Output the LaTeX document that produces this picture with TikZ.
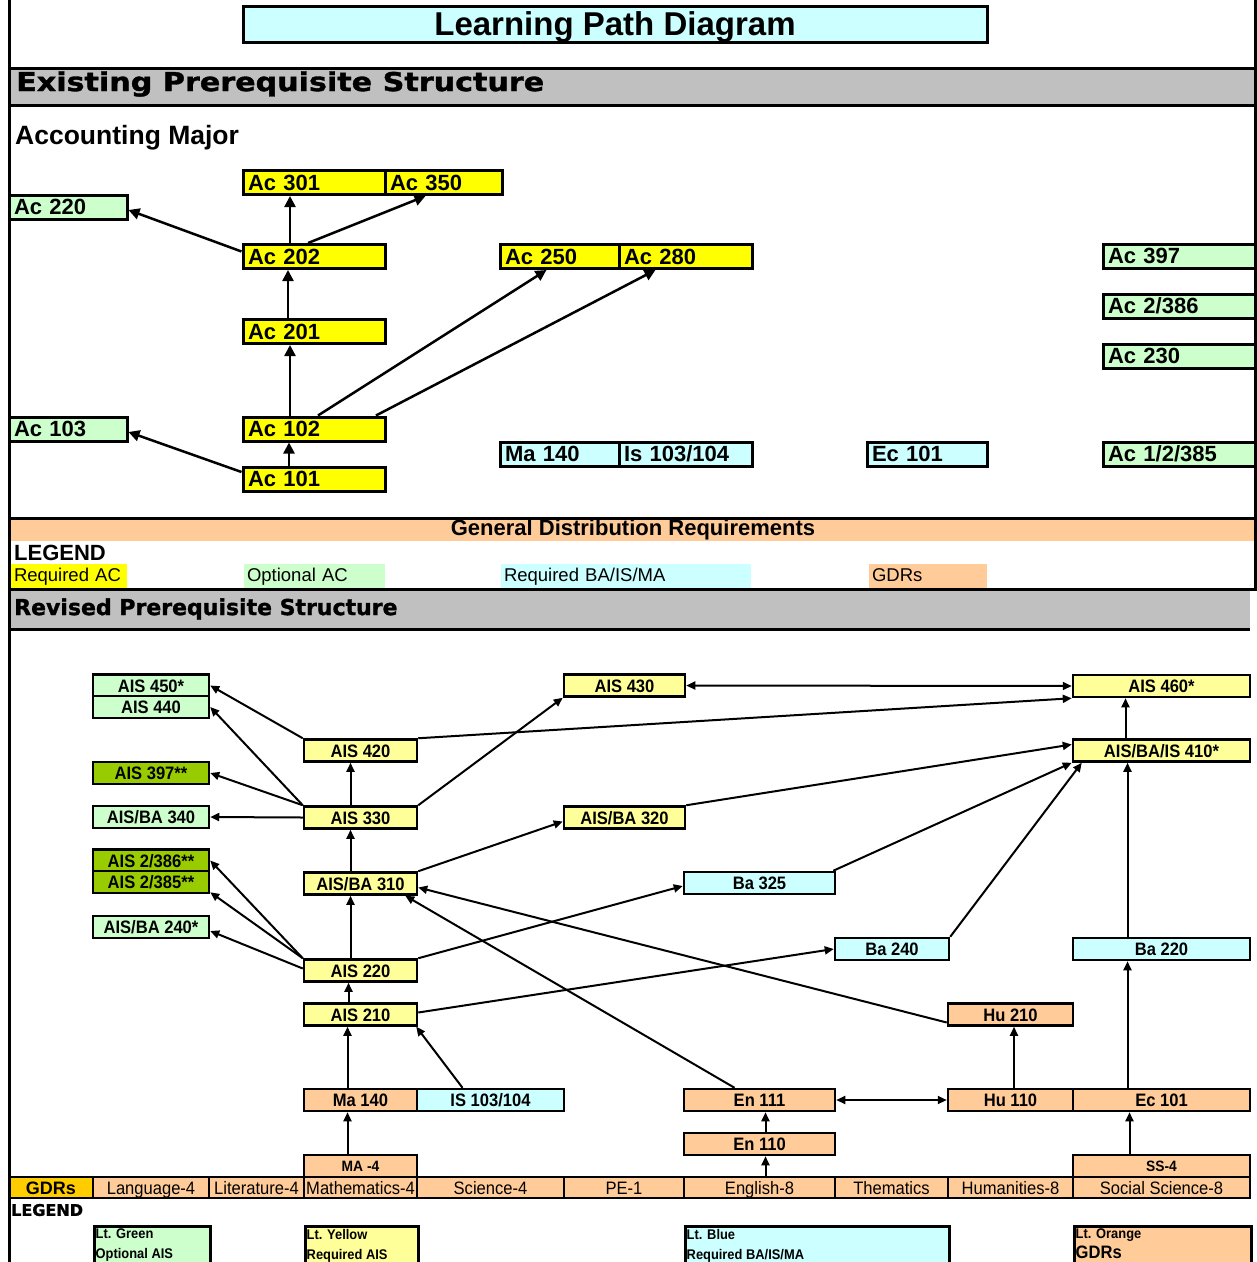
\documentclass[tikz,border=0pt]{standalone}
\usepackage{fontspec}
\setmainfont{Liberation Sans}
\newfontfamily\heavyfont[BoldFeatures={FakeBold=1.3}]{DejaVu Sans}
\newfontfamily\narrowfont[FakeStretch=0.92]{Liberation Sans}
\usepackage{graphicx}
\usetikzlibrary{arrows.meta}

\definecolor{acyellow}{HTML}{FFFF00}
\definecolor{acgreen}{HTML}{CCFFCC}
\definecolor{acblue}{HTML}{CCFFFF}
\definecolor{gdrpeach}{HTML}{FFCC99}
\definecolor{bandgray}{HTML}{C0C0C0}
\definecolor{aisyellow}{HTML}{FFFF99}
\definecolor{aisolive}{HTML}{99CC00}
\definecolor{gdrgold}{HTML}{FFCC00}

\begin{document}
\begin{tikzpicture}[x=1pt, y=-1pt,
  ebox/.style={draw, line width=3pt, inner xsep=5pt, inner ysep=0pt, minimum height=24pt,
    text width=#1, align=left, font=\bfseries\fontsize{22}{24}\selectfont, text height=15.5pt, text depth=0pt},
  rbox/.style={draw, line width=2.5pt, inner sep=0pt, minimum height=22pt, minimum width=#1,
    font=\narrowfont\bfseries\fontsize{18}{20}\selectfont, text height=13pt, text depth=0pt},
  gcell/.style={draw, line width=2.5pt, fill=gdrpeach, inner sep=0pt, minimum height=21pt, minimum width=#1,
    font=\narrowfont\fontsize{18}{20}\selectfont, text height=13pt, text depth=0pt},
  legrow/.style={inner xsep=3pt, inner ysep=0pt, minimum height=24pt, text width=#1, align=left,
    font=\fontsize{18.5}{20}\selectfont, text height=11pt, text depth=0pt},
  lbox/.style={draw, line width=2.5pt, minimum width=#1, minimum height=50pt, inner sep=0pt, anchor=north west},
  ltext/.style={align=left, inner sep=1pt, anchor=north west, font=\narrowfont\bfseries\fontsize{14}{20}\selectfont},
  earr/.style={line width=2.5pt, -{Triangle[length=11pt,width=11pt]}},
  rarr/.style={line width=2pt, -{Triangle[length=9pt,width=8pt]}},
  rboth/.style={line width=2pt, {Triangle[length=9pt,width=8pt]}-{Triangle[length=9pt,width=8pt]}}]

\clip (0,0) rectangle (1257,1262);

% title and bands
\node[draw, line width=3pt, fill=acblue, minimum width=744pt, minimum height=36pt, text height=23pt, text depth=0pt,
  font=\bfseries\fontsize{33}{36}\selectfont] (title) at (615,24) {Learning Path Diagram};

\fill[bandgray] (9,68) rectangle (1257,105);
\draw[line width=3pt] (9,68) -- (1257,68) (9,105) -- (1257,105);
\node[anchor=west, inner sep=0pt, font=\heavyfont\bfseries\fontsize{26}{28}\selectfont] (exhead) at (16,84)
  {\scalebox{1.16}[1]{Existing Prerequisite Structure}};
\node[anchor=west, inner sep=0pt, font=\bfseries\fontsize{26.5}{28}\selectfont] (major) at (15,138) {Accounting Major};

\fill[gdrpeach] (9,518) rectangle (1257,541);
\draw[line width=3pt] (9,518) -- (1257,518);
\node[font=\bfseries\fontsize{22}{24}\selectfont] (gdrhead) at (633,529.5) {General Distribution Requirements};
\node[anchor=west, inner sep=0pt, font=\bfseries\fontsize{22}{24}\selectfont] (legone) at (14,553) {LEGEND};
\node[legrow=110pt, fill=acyellow] (lreqac) at (69,576) {Required AC};
\node[legrow=135pt, fill=acgreen] (loptac) at (314.5,576) {Optional AC};
\node[legrow=244pt, fill=acblue] (lreqba) at (626,576) {Required BA/IS/MA};
\node[legrow=112pt, fill=gdrpeach] (lgdrs) at (928,576) {GDRs};

\fill[bandgray] (9,590) rectangle (1250,629);
\draw[line width=3pt] (9,589) -- (1257,589) (9,629) -- (1250,629);
\node[anchor=west, inner sep=0pt, font=\heavyfont\bfseries\fontsize{22}{24}\selectfont] (revhead) at (14,609)
  {Revised Prerequisite Structure};

% existing structure
\node[ebox=132pt, fill=acyellow] (ac301) at (314,182.5) {Ac 301};
\node[ebox=107pt, fill=acyellow] (ac350) at (443.5,182.5) {Ac 350};
\node[ebox=108pt, fill=acgreen] (ac220) at (68,207) {Ac 220};
\node[ebox=132pt, fill=acyellow] (ac202) at (314,256.5) {Ac 202};
\node[ebox=109pt, fill=acyellow] (ac250) at (559.5,256.5) {Ac 250};
\node[ebox=123pt, fill=acyellow] (ac280) at (685.5,256.5) {Ac 280};
\node[ebox=144pt, fill=acgreen] (ac397) at (1180,256) {Ac 397};
\node[ebox=144pt, fill=acgreen] (ac2386) at (1180,306) {Ac 2/386};
\node[ebox=144pt, fill=acgreen] (ac230) at (1180,356) {Ac 230};
\node[ebox=132pt, fill=acyellow] (ac201) at (314,331.5) {Ac 201};
\node[ebox=108pt, fill=acgreen] (ac103) at (68,429) {Ac 103};
\node[ebox=132pt, fill=acyellow] (ac102) at (314,429) {Ac 102};
\node[ebox=109pt, fill=acblue] (ma140e) at (559.5,454) {Ma 140};
\node[ebox=123pt, fill=acblue] (is103e) at (685.5,454) {Is 103/104};
\node[ebox=110pt, fill=acblue] (ec101e) at (927,454) {Ec 101};
\node[ebox=144pt, fill=acgreen] (ac1385) at (1180,454) {Ac 1/2/385};
\node[ebox=132pt, fill=acyellow] (ac101) at (314,479) {Ac 101};

\draw[earr] ([xshift=-24pt]ac202.north) -- ([xshift=-24pt]ac301.south);
\draw[earr] ([xshift=-6pt]ac202.north) -- ([xshift=-18pt]ac350.south);
\draw[earr] ([yshift=5pt]ac202.west) -- ([yshift=-3pt]ac220.east);
\draw[earr] ([xshift=-26pt]ac201.north) -- ([xshift=-26pt]ac202.south);
\draw[earr] ([xshift=-24pt]ac102.north) -- ([xshift=-24pt]ac201.south);
\draw[earr] ([xshift=4pt]ac102.north) -- ([xshift=-13pt]ac250.south);
\draw[earr] ([xshift=62pt]ac102.north) -- ([xshift=-30pt]ac280.south);
\draw[earr] ([yshift=7pt]ac101.west) -- ([yshift=-3pt]ac103.east);
\draw[earr] ([xshift=-25pt]ac101.north) -- ([xshift=-25pt]ac102.south);

% revised structure
\node[rbox=116pt, fill=acgreen] (ais450) at (151,685.5) {AIS 450*};
\node[rbox=116pt, fill=acgreen] (ais440) at (151,707) {AIS 440};
\node[rbox=113pt, fill=aisyellow] (ais420) at (360.5,750.5) {AIS 420};
\node[rbox=121pt, fill=aisyellow] (ais430) at (624.5,685.5) {AIS 430};
\node[rbox=177pt, fill=aisyellow] (ais460) at (1161.5,686) {AIS 460*};
\node[rbox=177pt, fill=aisyellow] (ais410) at (1161.5,750.5) {AIS/BA/IS 410*};
\node[rbox=116pt, fill=aisolive] (ais397) at (151,773) {AIS 397**};
\node[rbox=116pt, fill=acgreen] (aisba340) at (151,817) {AIS/BA 340};
\node[rbox=113pt, fill=aisyellow] (ais330) at (360.5,817.5) {AIS 330};
\node[rbox=121pt, fill=aisyellow] (aisba320) at (624.5,817.5) {AIS/BA 320};
\node[rbox=116pt, fill=aisolive] (ais2386) at (151,860.5) {AIS 2/386**};
\node[rbox=116pt, fill=aisolive] (ais2385) at (151,882) {AIS 2/385**};
\node[rbox=113pt, fill=aisyellow] (aisba310) at (360.5,883.5) {AIS/BA 310};
\node[rbox=151pt, fill=acblue] (ba325) at (759.5,883) {Ba 325};
\node[rbox=116pt, fill=acgreen] (aisba240) at (151,927) {AIS/BA 240*};
\node[rbox=114pt, fill=acblue] (ba240) at (892,949) {Ba 240};
\node[rbox=177pt, fill=acblue] (ba220) at (1161.5,949) {Ba 220};
\node[rbox=113pt, fill=aisyellow] (ais220) at (360.5,970.5) {AIS 220};
\node[rbox=113pt, fill=aisyellow] (ais210) at (360.5,1014.5) {AIS 210};
\node[rbox=125pt, fill=gdrpeach] (hu210) at (1010.5,1014.5) {Hu 210};
\node[rbox=113pt, fill=gdrpeach] (ma140) at (360.5,1100) {Ma 140};
\node[rbox=147pt, fill=acblue] (is103) at (490.5,1100) {IS 103/104};
\node[rbox=151pt, fill=gdrpeach] (en111) at (759.5,1100) {En 111};
\node[rbox=125pt, fill=gdrpeach] (hu110) at (1010.5,1100) {Hu 110};
\node[rbox=177pt, fill=gdrpeach] (ec101) at (1161.5,1100) {Ec 101};
\node[rbox=151pt, fill=gdrpeach] (en110) at (759.5,1144) {En 110};
\node[rbox=113pt, fill=gdrpeach, text height=11pt, font=\narrowfont\bfseries\fontsize{15}{17}\selectfont] (ma4) at (360.5,1166) {MA -4};
\node[rbox=177pt, fill=gdrpeach, text height=11pt, font=\narrowfont\bfseries\fontsize{15}{17}\selectfont] (ss4) at (1161.5,1166) {SS-4};

% GDR row
\node[gcell=84pt, fill=gdrgold, font=\bfseries\fontsize{18}{20}\selectfont] (gdrs) at (51,1187.5) {GDRs};
\node[gcell=116pt] (language) at (151,1187.5) {Language-4};
\node[gcell=95pt] (literature) at (256.5,1187.5) {Literature-4};
\node[gcell=113pt] (mathematics) at (360.5,1187.5) {Mathematics-4};
\node[gcell=147pt] (science) at (490.5,1187.5) {Science-4};
\node[gcell=120pt] (pe) at (624,1187.5) {PE-1};
\node[gcell=151pt] (english) at (759.5,1187.5) {English-8};
\node[gcell=113pt] (thematics) at (891.5,1187.5) {Thematics};
\node[gcell=125pt] (humanities) at (1010.5,1187.5) {Humanities-8};
\node[gcell=177pt] (socsci) at (1161.5,1187.5) {Social Science-8};

\draw[rarr] (ais420.north west) -- (ais450.east);
\draw[rarr] (ais330.north west) -- (ais440.east);
\draw[rarr] (ais330.north west) -- (ais397.east);
\draw[rarr] (ais330.west) -- (aisba340.east);
\draw[rarr] ([xshift=-10pt]ais330.north) -- ([xshift=-10pt]ais420.south);
\draw[rarr] (ais330.north east) -- (ais430.south west);
\draw[rarr] (ais420.north east) -- (ais460.south west);
\draw[rboth] (ais430.east) -- (ais460.west);
\draw[rarr] ([xshift=-36pt]ais410.north) -- ([xshift=-36pt]ais460.south);
\draw[rarr] (aisba320.north east) -- ([yshift=6pt]ais410.west);
\draw[rarr] ([xshift=-3pt]ba325.north east) -- (ais410.south west);
\draw[rarr] (ba240.north east) -- ([xshift=10pt]ais410.south west);
\draw[rarr] ([xshift=-34pt]ba220.north) -- ([xshift=-34pt]ais410.south);
\draw[rarr] ([xshift=-10pt]aisba310.north) -- ([xshift=-10pt]ais330.south);
\draw[rarr] (aisba310.north east) -- ([yshift=-4pt]aisba320.west);
\draw[rarr] ([xshift=-10pt]ais220.north) -- ([xshift=-10pt]aisba310.south);
\draw[rarr] (ais220.north west) -- (ais2386.east);
\draw[rarr] (ais220.north west) -- ([yshift=2pt]ais2385.south east);
\draw[rarr] ([yshift=2pt]ais220.west) -- ([yshift=-4pt]aisba240.east);
\draw[rarr] (ais220.north east) -- ([yshift=-3pt]ba325.west);
\draw[rarr] ([xshift=-12pt]ais210.north) -- ([xshift=-12pt]ais220.south);
\draw[rarr] ([yshift=2pt]ais210.east) -- (ba240.west);
\draw[rarr] ([yshift=-8pt]hu210.west) -- ([yshift=-4pt]aisba310.east);
\draw[rarr] ([xshift=-25pt]en111.north) -- ([xshift=-13pt]aisba310.south east);
\draw[rarr] ([xshift=-13pt]ma140.north) -- ([xshift=-13pt]ais210.south);
\draw[rarr] ([xshift=-28pt]is103.north) -- ([xshift=-2pt]ais210.south east);
\draw[rarr] ([xshift=-13pt]ma4.north) -- ([xshift=-13pt]ma140.south);
\draw[rboth] (en111.east) -- (hu110.west);
\draw[rarr] ([xshift=6pt]en110.north) -- ([xshift=6pt]en111.south);
\draw[rarr] ([xshift=6pt]english.north) -- ([xshift=6pt]en110.south);
\draw[rarr] ([xshift=3.5pt]hu110.north) -- ([xshift=3.5pt]hu210.south);
\draw[rarr] ([xshift=-34pt]ec101.north) -- ([xshift=-34pt]ba220.south);
\draw[rarr] ([xshift=-32pt]ss4.north) -- ([xshift=-32pt]ec101.south);

% legend
\node[anchor=west, inner sep=0pt, font=\heavyfont\bfseries\fontsize{16}{18}\selectfont] (legtwo) at (11,1210) {LEGEND};
\node[lbox=116pt, fill=acgreen] (lgreen) at (93,1225) {};
\node[ltext] at ([xshift=1.5pt,yshift=-3pt]lgreen.north west) {Lt. Green\\Optional AIS};
\node[lbox=113pt, fill=aisyellow] (lyellow) at (304,1225) {};
\node[ltext] at ([xshift=1.5pt,yshift=-3pt]lyellow.north west) {Lt. Yellow\\Required AIS};
\node[lbox=264pt, fill=acblue] (lblue) at (684,1225) {};
\node[ltext] at ([xshift=1.5pt,yshift=-3pt]lblue.north west) {Lt. Blue\\Required BA/IS/MA};
\node[lbox=177pt, fill=gdrpeach] (lorange) at (1073,1225) {};
\node[ltext] at ([xshift=1.5pt,yshift=-3pt]lorange.north west) {Lt. Orange\\{\fontsize{18}{20}\selectfont GDRs}};

% frame
\draw[line width=3pt] (9,0) -- (9,1262);
\draw[line width=3pt] (1255.5,0) -- (1255.5,589);
\end{tikzpicture}
\end{document}
